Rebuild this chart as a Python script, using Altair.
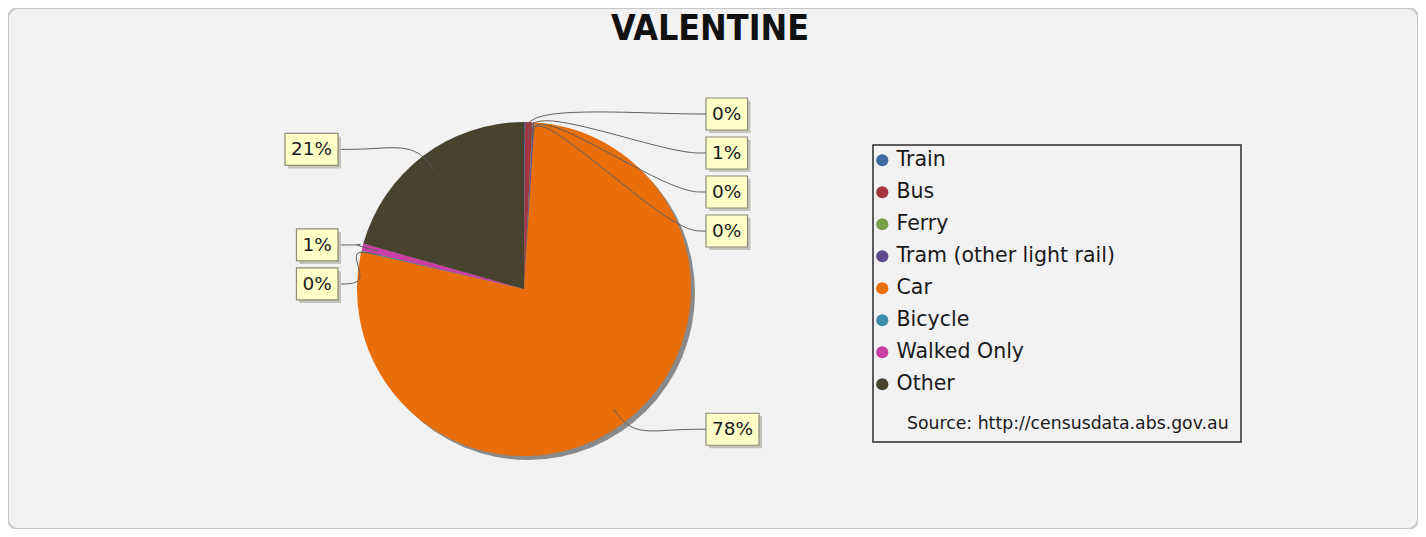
import math
import altair as alt
import pandas as pd

# ---------------- data ----------------
modes = ["Train", "Bus", "Ferry", "Tram (other light rail)", "Car", "Bicycle", "Walked Only", "Other"]
shares = [0.1, 0.7, 0.05, 0.15, 77.6, 0.1, 0.7, 20.6]
labels = ["0%", "1%", "0%", "0%", "78%", "0%", "1%", "21%"]
colors = ["#3d6aa2", "#a3363f", "#7aa04a", "#5f4b8e", "#e86d0b", "#3a8ca8", "#c93fa3", "#47432e"]
title_text = "VALENTINE"
source_text = "Source: http://censusdata.abs.gov.au"

# ---------------- layout (page pixels) ----------------
W, H = 1410, 521
X0, Y0 = 8, 8
CX, CY, R = 524, 289, 167
SHADOW = 4
LABEL_R = 175
GAP = 39
RIGHT_X = 706
LEFT_X = 338
BOX_H = 32
FONT = "DejaVu Sans"

xs = alt.Scale(domain=[X0, X0 + W], nice=False, zero=False)
ys = alt.Scale(domain=[Y0, Y0 + H], reverse=True, nice=False, zero=False)


def X(field):
    return alt.X(field, type="quantitative", scale=xs, axis=None)


def Y(field):
    return alt.Y(field, type="quantitative", scale=ys, axis=None)


def X2(field):
    return alt.X2(field)


def Y2(field):
    return alt.Y2(field)


# ---------------- derived geometry ----------------
total = sum(shares)
rows = []
cum = 0.0
for i, (m, s, l) in enumerate(zip(modes, shares, labels)):
    mid = (cum + s / 2) / total * 2 * math.pi
    cum += s
    rows.append(dict(idx=i, mode=m, share=s, label=l, a=mid))

for r in rows:
    r["side"] = 1 if math.sin(r["a"]) >= 0 else -1
    r["ny"] = CY - LABEL_R * math.cos(r["a"])

for side in (1, -1):
    grp = sorted([r for r in rows if r["side"] == side], key=lambda r: r["ny"])
    prev = -1e9
    for r in grp:
        y = max(r["ny"], prev + GAP)
        r["ly"] = y
        prev = y


def text_w(t, size=18):
    w = 0.0
    for ch in t:
        w += 0.95 if ch == "%" else 0.636
    return w * size


lab_rows = []
line_rows = []
for r in rows:
    w = text_w(r["label"]) + 13
    if r["side"] == 1:
        bx, bx2, edge = RIGHT_X, RIGHT_X + w, RIGHT_X
    else:
        bx, bx2, edge = LEFT_X - w, LEFT_X, LEFT_X
    ly = r["ly"]
    lab_rows.append(dict(mode=r["mode"], label=r["label"], bx=bx, bx2=bx2,
                         by=ly - BOX_H / 2, by2=ly + BOX_H / 2,
                         sx=bx + 3, sx2=bx2 + 3, sy=ly - BOX_H / 2 + 3, sy2=ly + BOX_H / 2 + 3,
                         tx=(bx + bx2) / 2, ty=ly))
    sa, ca = math.sin(r["a"]), math.cos(r["a"])
    pts = [
        (CX + 0.9 * R * sa, CY - 0.9 * R * ca),
        (CX + 1.08 * R * sa, CY - 1.08 * R * ca),
        (edge - r["side"] * 30, ly),
        (edge, ly),
    ]
    for k, (px, py) in enumerate(pts):
        line_rows.append(dict(mode=r["mode"], step=k, x=px, y=py))

pie_df = pd.DataFrame([dict(idx=r["idx"], mode=r["mode"], share=r["share"], cx=CX, cy=CY) for r in rows])
lab_df = pd.DataFrame(lab_rows)
line_df = pd.DataFrame(line_rows)
deco_df = pd.DataFrame([dict(sx=CX + SHADOW, sy=CY + SHADOW,
                             fx=873, fx2=1241, fy=145, fy2=442,
                             srcx=907, srcy=424, tx=710, ty=29)])

# ---------------- layers ----------------
shadow = alt.Chart(deco_df).mark_arc(
    theta=0, theta2=2 * math.pi, radius=R, color="#8a8a8a"
).encode(x=X("sx"), y=Y("sy"))

pie = alt.Chart(pie_df).mark_arc(radius=R).encode(
    x=X("cx"), y=Y("cy"),
    theta=alt.Theta("share:Q", stack=True),
    order=alt.Order("idx:Q"),
    color=alt.Color(
        "mode:N",
        sort=modes,
        scale=alt.Scale(domain=modes, range=colors),
        legend=alt.Legend(
            title=None, orient="none", legendX=872 - X0, legendY=150 - Y0,
            symbolType="circle", symbolSize=150, symbolStrokeWidth=0,
            labelFont=FONT, labelFontSize=20.5, labelColor="#1a1a1a",
            rowPadding=11, labelOffset=4, padding=0, labelLimit=400,
        ),
    ),
)

lines = alt.Chart(line_df).mark_line(
    interpolate="basis", color="#5f5f5f", strokeWidth=1
).encode(x=X("x"), y=Y("y"), detail="mode:N", order=alt.Order("step:Q"))

box_shadow = alt.Chart(lab_df).mark_rect(color="#c4c4bc").encode(
    x=X("sx"), x2=X2("sx2"), y=Y("sy"), y2=Y2("sy2"))

boxes = alt.Chart(lab_df).mark_rect(fill="#ffffc8", stroke="#8c8c78", strokeWidth=1.2).encode(
    x=X("bx"), x2=X2("bx2"), y=Y("by"), y2=Y2("by2"))

texts = alt.Chart(lab_df).mark_text(
    font=FONT, fontSize=18.5, color="#1a1a1a", align="center", baseline="middle"
).encode(x=X("tx"), y=Y("ty"), text="label:N")

frame = alt.Chart(deco_df).mark_rect(fillOpacity=0, stroke="#2a2a2a", strokeWidth=1.5).encode(
    x=X("fx"), x2=X2("fx2"), y=Y("fy"), y2=Y2("fy2"))

src = alt.Chart(deco_df).mark_text(
    font=FONT, fontSize=17.3, color="#1a1a1a", align="left", baseline="middle", text=source_text
).encode(x=X("srcx"), y=Y("srcy"))

title = alt.Chart(deco_df).mark_text(
    font="DejaVu Sans Condensed, DejaVu Sans",
    fontSize=35.5, fontWeight="bold", color="#111111",
    align="center", baseline="middle", text=title_text
).encode(x=X("tx"), y=Y("ty"))

chart = alt.layer(shadow, pie, lines, box_shadow, boxes, texts, frame, src, title).properties(
    width=W, height=H, padding=0, background="white"
).configure_view(
    fill="#f2f2f2", stroke="#c6c6c6", strokeWidth=2, cornerRadius=10
)

chart.save("out.html", embed_options={"renderer": "svg", "actions": False})
